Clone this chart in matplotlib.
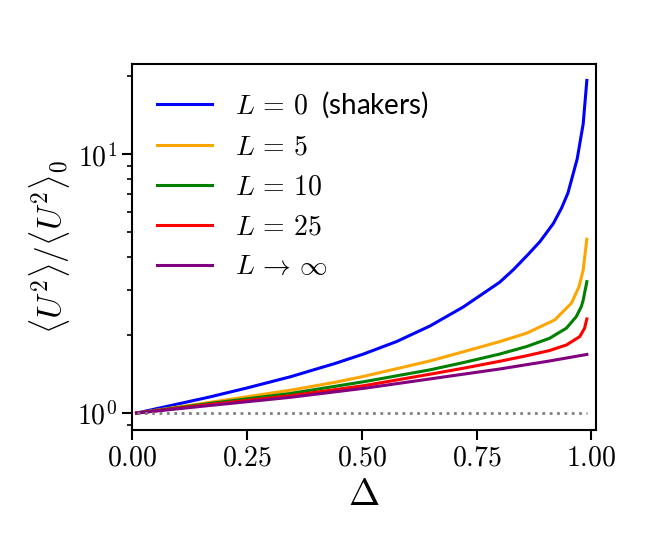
import numpy as np
import matplotlib
matplotlib.use('Agg')
import matplotlib.pyplot as plt
from matplotlib.ticker import FuncFormatter, NullFormatter, LogLocator

plt.rcParams['mathtext.fontset'] = 'cm'
plt.rcParams['font.family'] = ['Lato', 'DejaVu Sans']

#-values (Delta, <U^2>/<U^2>_0)
delta_L0 = [0.01, 0.116, 0.17, 0.25, 0.344, 0.442, 0.5035, 0.576, 0.6485, 0.721,
            0.80, 0.83, 0.862, 0.888, 0.917, 0.935, 0.949, 0.969, 0.982, 0.99]
ratio_L0 = [1.0, 1.1, 1.155, 1.25, 1.38, 1.555, 1.69, 1.89, 2.17, 2.57,
            3.2, 3.58, 4.1, 4.6, 5.4, 6.2, 7.1, 9.6, 13.1, 19.3]

delta_L5 = [0.01, 0.17, 0.344, 0.442, 0.5035, 0.6485, 0.721, 0.80, 0.8587,
            0.92, 0.9565, 0.973, 0.982, 0.99]
ratio_L5 = [1.0, 1.1, 1.225, 1.315, 1.385, 1.59, 1.725, 1.888, 2.035,
            2.29, 2.66, 3.08, 3.57, 4.70]

delta_L10 = [0.01, 0.17, 0.344, 0.507, 0.6485, 0.721, 0.80, 0.8587, 0.909,
             0.9457, 0.967, 0.978, 0.982, 0.99]
ratio_L10 = [1.0, 1.09, 1.19, 1.324, 1.469, 1.567, 1.69, 1.807, 1.946,
             2.13, 2.36, 2.58, 2.73, 3.22]

delta_L25 = [0.01, 0.17, 0.344, 0.507, 0.6485, 0.721, 0.80, 0.8587, 0.909,
             0.9457, 0.9746, 0.985, 0.99]
ratio_L25 = [1.0, 1.08, 1.166, 1.278, 1.413, 1.49, 1.585, 1.665, 1.745,
             1.834, 1.975, 2.127, 2.31]

delta_Linf = [0.01, 0.17, 0.344, 0.507, 0.6485, 0.80, 0.909, 0.99]
ratio_Linf = [1.0, 1.07, 1.15, 1.248, 1.355, 1.48, 1.59, 1.685]

delta_ref = [0.01, 0.99]
ratio_ref = [1.0, 1.0]

labels = [r'$L\,=\,0\;$ (shakers)', r'$L\,=\,5$', r'$L\,=\,10$', r'$L\,=\,25$',
          r'$L\,\to\,\infty$']
colors = ['blue', 'orange', 'green', 'red', 'purple']

fig = plt.figure(figsize=(6.63, 5.38), dpi=100)
ax = fig.add_axes([0.199, 0.2007, 0.700, 0.680])

series = [(delta_L0, ratio_L0), (delta_L5, ratio_L5), (delta_L10, ratio_L10),
          (delta_L25, ratio_L25), (delta_Linf, ratio_Linf)]
for (d, r), lab, c in zip(series, labels, colors):
    ax.plot(d, r, color=c, lw=2.2, label=lab)

ax.plot(delta_ref, ratio_ref, color='gray', ls=':', lw=2)

ax.set_yscale('log')
ax.set_xlim(0, 1.01)
ax.set_ylim(0.86, 22.3)
ax.set_xticks([0, 0.25, 0.5, 0.75, 1.0])
ax.xaxis.set_major_formatter(FuncFormatter(lambda v, p: r'$%.2f$' % v))
ax.yaxis.set_major_locator(LogLocator(base=10))
ax.yaxis.set_major_formatter(FuncFormatter(lambda v, p: r'$10^{%d}$' % round(np.log10(v))))
ax.yaxis.set_minor_formatter(NullFormatter())

ax.tick_params(which='major', labelsize=20, length=7, width=1.5)
ax.tick_params(which='minor', length=3.5, width=1.2)
for s in ax.spines.values():
    s.set_linewidth(1.5)

ax.set_xlabel(r'$\Delta$', fontsize=27)
ax.set_ylabel(r'$\langle U^2\rangle / \langle U^2\rangle_0$', fontsize=24)

ax.legend(loc='upper left', fontsize=20, frameon=False)

fig.savefig('out.png', dpi=100)
